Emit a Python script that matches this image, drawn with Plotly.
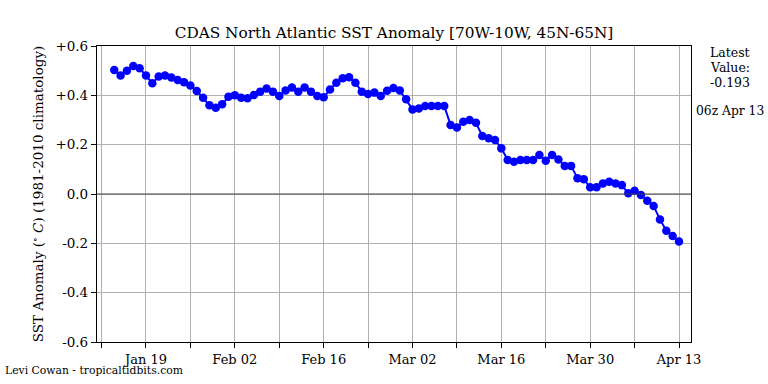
import pandas as pd
import plotly.graph_objects as go

start_date = "2023-01-14"
end_date = "2023-04-13"
anomaly = [
    0.503, 0.480, 0.500, 0.519, 0.510, 0.480, 0.449, 0.476, 0.480, 0.472,
    0.462, 0.453, 0.440, 0.418, 0.390, 0.360, 0.350, 0.364, 0.394, 0.400,
    0.390, 0.388, 0.401, 0.415, 0.428, 0.415, 0.397, 0.420, 0.432, 0.415,
    0.432, 0.415, 0.397, 0.392, 0.424, 0.451, 0.469, 0.473, 0.451, 0.415,
    0.405, 0.411, 0.397, 0.419, 0.430, 0.420, 0.384, 0.343, 0.347, 0.357,
    0.357, 0.357, 0.357, 0.280, 0.270, 0.293, 0.300, 0.289, 0.235, 0.226,
    0.219, 0.185, 0.138, 0.131, 0.138, 0.138, 0.138, 0.158, 0.135, 0.158,
    0.140, 0.114, 0.114, 0.064, 0.060, 0.027, 0.027, 0.043, 0.050, 0.043,
    0.036, 0.003, 0.013, -0.004, -0.027, -0.049, -0.103, -0.149, -0.170, -0.193,
]
dates = pd.date_range(start_date, end_date, freq="D")

xtick_dates = pd.date_range("2023-01-12", "2023-04-13", freq="7D")
xtick_labels = ["", "Jan 19", "", "Feb 02", "", "Feb 16", "", "Mar 02", "", "Mar 16", "", "Mar 30", "", "Apr 13"]
ytick_vals = [-0.6, -0.4, -0.2, 0.0, 0.2, 0.4, 0.6]
ytick_labels = ["-0.6", "-0.4", "-0.2", "0.0", "+0.2", "+0.4", "+0.6"]

title = "CDAS North Atlantic SST Anomaly [70W-10W, 45N-65N]"
ylabel = "SST Anomaly (<sup>∘</sup> <i>C</i>) (1981-2010 climatology)"
latest_lines = ["Latest", "Value:", "-0.193"]
time_text = "06z Apr 13"
credit = "Levi Cowan - tropicaltidbits.com"

FONT = "DejaVu Serif"
W, H = 768, 384
L, R, T, B = 97, 691, 46, 342
PW, PH = R - L, B - T


def px(xpage):
    return (xpage - L) / PW


def py(ypage):
    return 1 - (ypage - T) / PH


fig = go.Figure()
fig.add_trace(go.Scatter(
    x=dates, y=anomaly, mode="lines+markers",
    line=dict(color="#0000ff", width=2),
    marker=dict(color="#0000ff", size=8.5),
    showlegend=False,
))

fig.add_shape(type="line", xref="paper", x0=0, x1=1, yref="y", y0=0, y1=0,
              line=dict(color="#444444", width=1.2), layer="above")

annotations = []
for text, ypage in zip(latest_lines, [52, 67, 82]):
    annotations.append(dict(text=text, xref="paper", yref="paper",
                            x=px(729.5), y=py(ypage), xanchor="center", yanchor="middle",
                            showarrow=False, font=dict(family=FONT, size=12.5, color="black")))
annotations.append(dict(text=time_text, xref="paper", yref="paper",
                        x=px(729.5), y=py(111), xanchor="center", yanchor="middle",
                        showarrow=False, font=dict(family=FONT, size=12.3, color="black")))
annotations.append(dict(text=credit, xref="paper", yref="paper",
                        x=px(3), y=py(370.5), xanchor="left", yanchor="middle",
                        showarrow=False, align="left",
                        font=dict(family=FONT, size=10.8, color="black")))

fig.update_layout(
    width=W, height=H,
    margin=dict(l=L, r=W - R, t=T, b=H - B, autoexpand=False),
    paper_bgcolor="white", plot_bgcolor="white",
    font=dict(family=FONT, size=13, color="black"),
    title=dict(text=title, x=(L + R) / 2 / W, xanchor="center",
               y=1 - 33 / H, yanchor="middle",
               font=dict(family=FONT, size=15.3, color="black")),
    xaxis=dict(
        range=["2023-01-11 06:45", "2023-04-14 21:20"],
        tickmode="array", tickvals=xtick_dates, ticktext=xtick_labels,
        showgrid=True, gridcolor="#b0b0b0", gridwidth=1,
        showline=True, linecolor="black", linewidth=1.2, mirror=True,
        ticks="outside", ticklen=5, tickcolor="black",
        tickfont=dict(family=FONT, size=13, color="black"),
        zeroline=False, automargin=False,
    ),
    yaxis=dict(
        range=[-0.6, 0.6],
        tickmode="array", tickvals=ytick_vals, ticktext=ytick_labels,
        showgrid=True, gridcolor="#b0b0b0", gridwidth=1,
        showline=True, linecolor="black", linewidth=1.2, mirror=True,
        ticks="outside", ticklen=5, tickcolor="black",
        tickfont=dict(family=FONT, size=13.5, color="black"),
        zeroline=False, automargin=False,
        title=dict(text=ylabel, font=dict(family=FONT, size=13.5, color="black"), standoff=8),
    ),
    annotations=annotations,
)

fig.write_html(
    "out.html",
    config={"displayModeBar": False},
    post_script="document.body.style.margin='0';document.body.style.overflow='hidden';",
)
